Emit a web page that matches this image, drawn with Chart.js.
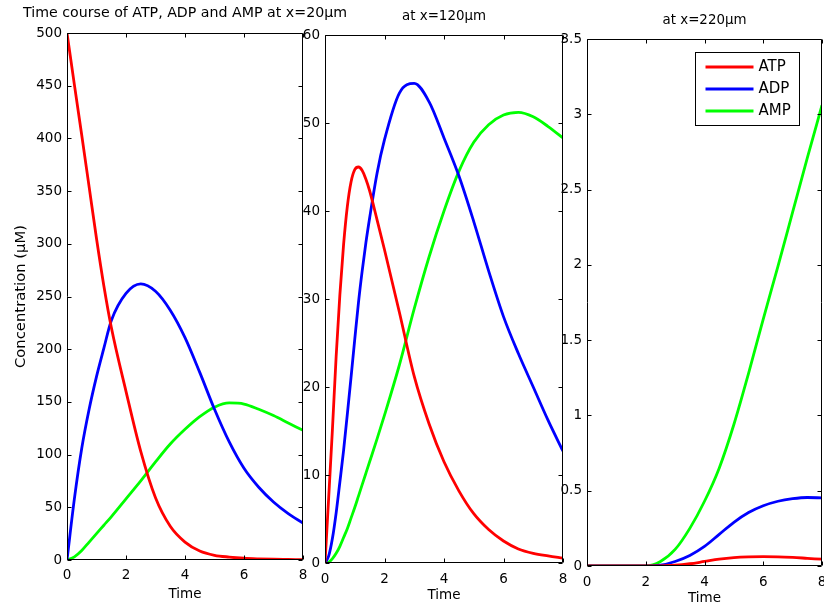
<!DOCTYPE html>
<html><head><meta charset="utf-8">
<script src="https://cdn.jsdelivr.net/npm/chart.js@4.4.0/dist/chart.umd.min.js"></script>
<style>
html,body{margin:0;padding:0;background:#fff;overflow:hidden;width:824px;height:609px;}
canvas{position:absolute;top:0;}
</style></head><body>
<canvas id="c1" width="370" height="609" style="left:0px"></canvas>
<canvas id="c2" width="300" height="609" style="left:280px"></canvas>
<canvas id="c3" width="300" height="620" style="left:545px"></canvas>
<script>
// ---- data ----
const seriesNames = ['ATP','ADP','AMP'];
const seriesColors = ['#ff0000','#0000ff','#00ff00'];
const panelTitles = ['Time course of ATP, ADP and AMP at x=20\u03bcm','at x=120\u03bcm','at x=220\u03bcm'];
const xLabel = 'Time';
const yLabel = 'Concentration (\u03bcM)';
// x = 20 um
const times20 = [0,0.25,0.5,0.75,1,1.25,1.5,2,2.5,3,3.5,4,4.5,5,5.5,6,6.5,7,7.5,8];
const atp20 = [500,451,403,354,305,260,221,160,103,59,32,17,8.5,4.5,2.8,1.7,1.1,0.7,0.5,0.3];
const adp20 = [0,58,106,143,174,201,227,253,262,255,237,211,178,143,112,87,69,55,44,35];
const amp20 = [0,3,9,17,25,33,41,58,75,93,110,124,136,145,149,148,143,137,130,123];
// x = 120 um
const times120 = [0,0.125,0.25,0.375,0.5,0.625,0.75,0.875,1,1.125,1.25,1.375,1.5,1.75,2,2.5,3,3.5,4,4.5,5,5.5,6,6.5,7,7.5,8];
const atp120 = [0,7.5,15.2,23.5,30.5,36.2,40.5,43.3,44.7,45.0,44.6,43.6,42.3,39.0,35.6,28.5,21.2,15.8,11.5,8.2,5.6,3.8,2.5,1.6,1.1,0.8,0.55];
const adp120 = [0,0.8,2.8,5.7,9.2,12.8,16.9,21.1,25.4,29.6,33.2,36.4,39.2,44.3,48.1,53.4,54.5,52.4,48.3,44.0,38.8,33.2,28.0,23.8,20.0,16.2,12.7];
const amp120 = [0,0.1,0.5,1.1,1.9,2.9,3.9,5.1,6.3,7.6,8.9,10.2,11.5,14.1,16.8,22.5,28.9,34.8,40.0,44.5,47.8,49.8,50.9,51.2,50.7,49.6,48.3];
// x = 220 um
const times220 = [0,0.5,1,1.5,2,2.5,3,3.5,4,4.5,5,5.5,6,6.5,7,7.5,8];
const atp220 = [0,0,0,0,0,0.001,0.005,0.015,0.03,0.045,0.055,0.06,0.062,0.061,0.057,0.051,0.045];
const adp220 = [0,0,0,0,0,0.005,0.03,0.07,0.13,0.21,0.29,0.355,0.40,0.43,0.447,0.455,0.452];
const amp220 = [0,0,0,0,0,0.03,0.11,0.25,0.43,0.65,0.94,1.28,1.64,1.99,2.35,2.71,3.06];
// y axis ranges
const yMaxes = [500, 60, 3.5];
const ySteps = [50, 10, 0.5];

Chart.defaults.font.family = "'DejaVu Sans', sans-serif";
Chart.defaults.font.size = 13.5;
Chart.defaults.color = '#000';

const framePlugin = {
  id: 'matlabFrame',
  afterDatasetsDraw(chart, args, opts) {
    const {ctx, chartArea: a, scales} = chart;
    const L = Math.round(a.left) + 0.5, R = Math.round(a.right) - 0.5;
    const T = Math.round(a.top) + 0.5, B = Math.round(a.bottom) - 0.5;
    ctx.save();
    ctx.strokeStyle = '#000';
    ctx.lineWidth = 1;
    ctx.beginPath();
    ctx.rect(L, T, R - L, B - T);
    const tl = 4;
    scales.x.ticks.forEach(t => {
      const px = Math.round(scales.x.getPixelForValue(t.value)) + 0.5;
      ctx.moveTo(px, B); ctx.lineTo(px, B - tl);
      ctx.moveTo(px, T); ctx.lineTo(px, T + tl);
    });
    scales.y.ticks.forEach(t => {
      const py = Math.round(scales.y.getPixelForValue(t.value)) + 0.5;
      ctx.moveTo(L, py); ctx.lineTo(L + tl, py);
      ctx.moveTo(R, py); ctx.lineTo(R - tl, py);
    });
    ctx.stroke();
    // panel title
    if (opts.title) {
      ctx.fillStyle = '#000';
      ctx.font = opts.titleSize + "px 'DejaVu Sans', sans-serif";
      ctx.textAlign = 'center';
      ctx.textBaseline = 'middle';
      ctx.fillText(opts.title, (a.left + a.right) / 2, a.top - opts.titleGap);
    }
    // boxed legend
    if (opts.legend) {
      const bw = 104, bh = 73;
      const bx = Math.round(a.right - 127) + 0.5, by = Math.round(a.top + 13) + 0.5;
      ctx.fillStyle = '#fff';
      ctx.fillRect(bx, by, bw, bh);
      ctx.strokeStyle = '#000';
      ctx.lineWidth = 1;
      ctx.strokeRect(bx, by, bw, bh);
      ctx.textAlign = 'left';
      ctx.textBaseline = 'middle';
      ctx.font = "15px 'DejaVu Sans', sans-serif";
      chart.data.datasets.forEach((ds, i) => {
        const yy = by + 14.5 + i * 22;
        ctx.strokeStyle = ds.borderColor;
        ctx.lineWidth = 3;
        ctx.beginPath();
        ctx.moveTo(bx + 10, yy); ctx.lineTo(bx + 58, yy);
        ctx.stroke();
        ctx.fillStyle = '#000';
        ctx.fillText(ds.label, bx + 63, yy + 0.5);
      });
    }
    ctx.restore();
  }
};

function makeChart(id, times, series, idx, cfg) {
  const datasets = series.map((arr, i) => ({
    label: seriesNames[i],
    data: times.map((t, k) => ({x: t, y: arr[k]})),
    borderColor: seriesColors[i],
    backgroundColor: seriesColors[i],
    borderWidth: 2.8,
    pointRadius: 0,
    cubicInterpolationMode: 'monotone',
    fill: false
  }));
  return new Chart(document.getElementById(id), {
    type: 'line',
    data: {datasets},
    options: {
      responsive: false,
      animation: false,
      devicePixelRatio: 1,
      layout: {padding: {left: 0, right: cfg.padRight, top: cfg.padTop, bottom: 0}},
      plugins: {
        legend: {display: false},
        tooltip: {enabled: false},
        matlabFrame: {title: panelTitles[idx], titleGap: cfg.titleGap, titleSize: cfg.titleSize, legend: !!cfg.legend}
      },
      scales: {
        x: {
          type: 'linear', min: 0, max: 8,
          grid: {display: false, drawTicks: false},
          border: {display: false},
          ticks: {stepSize: 2, padding: cfg.xTickPad, maxRotation: 0, autoSkip: false},
          title: {display: true, text: xLabel, font: {size: 13.5}, padding: {top: 0, bottom: cfg.xTitlePad}},
          afterFit: s => { s.height = cfg.xHeight; }
        },
        y: {
          type: 'linear', min: 0, max: yMaxes[idx],
          grid: {display: false, drawTicks: false},
          border: {display: false},
          ticks: {stepSize: ySteps[idx], padding: 5, autoSkip: false, callback: v => String(v)},
          title: {display: !!cfg.yTitle, text: yLabel, font: {size: 14.8}, padding: {top: 12, bottom: 0}},
          afterFit: s => { s.width = cfg.yWidth; }
        }
      }
    },
    plugins: [framePlugin]
  });
}

makeChart('c1', times20, [atp20, adp20, amp20], 0, {padRight: 67, padTop: 33, xHeight: 49, yWidth: 67, xTickPad: 7, xTitlePad: 6, titleGap: 19.5, titleSize: 14.2, yTitle: true});
makeChart('c2', times120, [atp120, adp120, amp120], 1, {padRight: 17, padTop: 35, xHeight: 46, yWidth: 45, xTickPad: 8, xTitlePad: 5, titleGap: 18.5, titleSize: 13.4});
makeChart('c3', times220, [atp220, adp220, amp220], 2, {padRight: 23, padTop: 39, xHeight: 54, yWidth: 42, xTickPad: 8, xTitlePad: 13, titleGap: 18.5, titleSize: 13.4, legend: true});
</script>
</body></html>
